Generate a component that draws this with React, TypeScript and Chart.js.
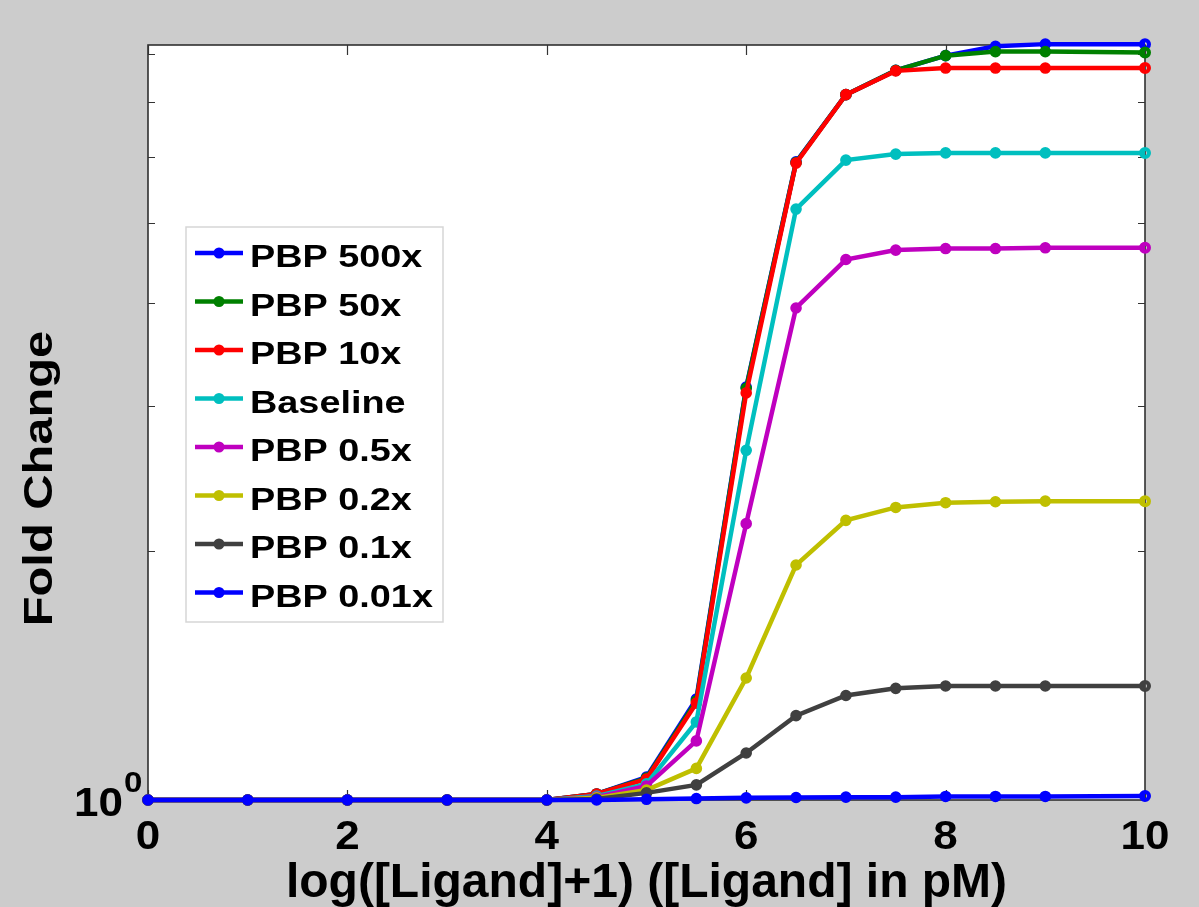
import React, { useEffect, useRef } from "react";
import { Chart, registerables } from "chart.js";

Chart.register(...registerables);

// ---- data ----
const xValues = [0, 1, 2, 3, 4, 4.5, 5, 5.5, 6, 6.5, 7, 7.5, 8, 8.5, 9, 10];
const pbp500x = [1, 1, 1, 1, 1, 1.017, 1.066, 1.325, 3.16, 5.92, 7.14, 7.64, 7.96, 8.17, 8.22, 8.22];
const pbp50x = [1, 1, 1, 1, 1, 1.017, 1.063, 1.318, 3.15, 5.91, 7.14, 7.64, 7.96, 8.05, 8.05, 8.03];
const pbp10x = [1, 1, 1, 1, 1, 1.017, 1.06, 1.31, 3.11, 5.9, 7.14, 7.63, 7.69, 7.69, 7.69, 7.69];
const baseline = [1, 1, 1, 1, 1, 1.011, 1.046, 1.243, 2.65, 5.19, 5.95, 6.05, 6.07, 6.07, 6.07, 6.07];
const pbp05x = [1, 1, 1, 1, 1, 1.008, 1.04, 1.179, 2.16, 3.94, 4.51, 4.63, 4.65, 4.65, 4.66, 4.66];
const pbp02x = [1, 1, 1, 1, 1, 1.006, 1.028, 1.092, 1.405, 1.925, 2.18, 2.26, 2.29, 2.296, 2.3, 2.3];
const pbp01x = [1, 1, 1, 1, 1, 1.003, 1.02, 1.043, 1.14, 1.265, 1.338, 1.365, 1.374, 1.374, 1.374, 1.374];
const pbp001x = [1, 1, 1, 1, 1, 1.0, 1.002, 1.004, 1.006, 1.007, 1.008, 1.008, 1.01, 1.01, 1.01, 1.011];

const seriesLabels = ["PBP 500x", "PBP 50x", "PBP 10x", "Baseline", "PBP 0.5x", "PBP 0.2x", "PBP 0.1x", "PBP 0.01x"];
const seriesValues = [pbp500x, pbp50x, pbp10x, baseline, pbp05x, pbp02x, pbp01x, pbp001x];
const seriesColors = ["#0000ff", "#008000", "#ff0000", "#00bfbf", "#bf00bf", "#bfbf00", "#404040", "#0000ff"];

const xTickValues = [0, 2, 4, 6, 8, 10];
const xTickLabels = ["0", "2", "4", "6", "8", "10"];
const yMinorTicks = [2, 3, 4, 5, 6, 7, 8];
const yMajorTick = 1;
const yMajorBase = "10";
const yMajorExp = "0";
const xTitle = "log([Ligand]+1) ([Ligand] in pM)";
const yTitle = "Fold Change";

const FONT = '"Liberation Sans", Arial, Helvetica, sans-serif';

function drawText(
  ctx: CanvasRenderingContext2D,
  text: string,
  x: number,
  y: number,
  size: number,
  sx: number,
  align: CanvasTextAlign,
  rot = 0
) {
  ctx.save();
  ctx.translate(x, y);
  if (rot) ctx.rotate(rot);
  ctx.scale(sx, 1);
  ctx.font = `bold ${size}px ${FONT}`;
  ctx.textAlign = align;
  ctx.textBaseline = "alphabetic";
  ctx.fillStyle = "#000000";
  ctx.fillText(text, 0, 0);
  ctx.restore();
}

const matlabPlugin = {
  id: "matlabStyle",
  beforeDraw(chart: any) {
    const { ctx, chartArea: a, width, height } = chart;
    ctx.save();
    ctx.fillStyle = "#cccccc";
    ctx.fillRect(0, 0, width, height);
    ctx.fillStyle = "#ffffff";
    ctx.fillRect(a.left, a.top, a.right - a.left, a.bottom - a.top);
    ctx.restore();
  },
  beforeDatasetsDraw(chart: any) {
    const { ctx, chartArea: a, scales } = chart;
    const xs = scales.x;
    const ys = scales.y;
    ctx.save();
    ctx.strokeStyle = "#303030";
    ctx.lineWidth = 1.6;
    ctx.strokeRect(a.left, a.top, a.right - a.left, a.bottom - a.top);
    ctx.lineWidth = 1.2;
    ctx.strokeStyle = "#333333";
    ctx.beginPath();
    for (const v of xTickValues) {
      const px = Math.round(xs.getPixelForValue(v)) + 0.5;
      ctx.moveTo(px, a.bottom);
      ctx.lineTo(px, a.bottom - 10);
      ctx.moveTo(px, a.top);
      ctx.lineTo(px, a.top + 10);
    }
    for (const v of yMinorTicks) {
      const py = Math.round(ys.getPixelForValue(v)) + 0.5;
      ctx.moveTo(a.left, py);
      ctx.lineTo(a.left + 7, py);
      ctx.moveTo(a.right, py);
      ctx.lineTo(a.right - 7, py);
    }
    ctx.stroke();
    ctx.restore();
  },
  afterDraw(chart: any) {
    const { ctx, chartArea: a, scales } = chart;
    const xs = scales.x;
    const ys = scales.y;
    // x tick labels
    xTickValues.forEach((v, i) => {
      drawText(ctx, xTickLabels[i], xs.getPixelForValue(v), 849, 40, 1.1, "center");
    });
    // y tick label 10^0
    const y1 = ys.getPixelForValue(yMajorTick);
    drawText(ctx, yMajorBase, 123, y1 + 16, 40, 1.1, "right");
    drawText(ctx, yMajorExp, 124, y1 - 8, 30, 1.1, "left");
    // axis titles
    drawText(ctx, xTitle, (a.left + a.right) / 2, 897, 48, 1.0, "center");
    drawText(ctx, yTitle, 52, (a.top + a.bottom) / 2 + 56, 40, 1.22, "center", -Math.PI / 2);

    // legend
    const lx = 186, ly = 227, lw = 257, lh = 395;
    ctx.save();
    ctx.fillStyle = "#ffffff";
    ctx.fillRect(lx, ly, lw, lh);
    ctx.strokeStyle = "#d6d6d6";
    ctx.lineWidth = 1.5;
    ctx.strokeRect(lx, ly, lw, lh);
    ctx.restore();
    seriesLabels.forEach((label, i) => {
      const cy = 253 + i * 48.5;
      ctx.save();
      ctx.strokeStyle = seriesColors[i];
      ctx.lineWidth = 4.5;
      ctx.beginPath();
      ctx.moveTo(195, cy);
      ctx.lineTo(243, cy);
      ctx.stroke();
      ctx.fillStyle = seriesColors[i];
      ctx.beginPath();
      ctx.arc(219, cy, 5.5, 0, Math.PI * 2);
      ctx.fill();
      ctx.restore();
      drawText(ctx, label, 250, cy + 14, 31, 1.22, "left");
    });
  },
};

export default function App() {
  const canvasRef = useRef<HTMLCanvasElement | null>(null);

  useEffect(() => {
    const canvas = canvasRef.current;
    if (!canvas) return;
    const last = xValues.length - 1;
    const datasets = seriesLabels.map((label, si) => {
      const color = seriesColors[si];
      return {
        label,
        data: xValues.map((x, i) => ({ x, y: seriesValues[si][i] })),
        borderColor: color,
        backgroundColor: color,
        borderWidth: 4.5,
        tension: 0,
        clip: false as any,
        order: seriesLabels.length - si,
        pointStyle: "circle",
        pointRadius: xValues.map((_, i) => (i === last ? 4 : 5)),
        pointBorderWidth: xValues.map((_, i) => (i === last ? 4 : 1.6)),
        pointBackgroundColor: xValues.map((_, i) => (i === last ? "rgba(0,0,0,0)" : color)),
        pointBorderColor: color,
      };
    });

    const chart = new Chart(canvas, {
      type: "line",
      data: { datasets },
      options: {
        animation: false,
        responsive: false,
        devicePixelRatio: 1,
        layout: { padding: { left: 148, top: 45, right: 54, bottom: 107 } },
        plugins: {
          legend: { display: false },
          tooltip: { enabled: false },
          title: { display: false },
        },
        scales: {
          x: { type: "linear", min: 0, max: 10, display: false, bounds: "data" },
          y: { type: "logarithmic", min: 1, max: 8.2, display: false, bounds: "data" },
        },
      },
      plugins: [matlabPlugin],
    } as any);

    return () => chart.destroy();
  }, []);

  return (
    <div style={{ position: "absolute", left: 0, top: 0, width: 1199, height: 907, background: "#cccccc" }}>
      <canvas ref={canvasRef} width={1199} height={907} style={{ display: "block", width: 1199, height: 907 }} />
    </div>
  );
}
